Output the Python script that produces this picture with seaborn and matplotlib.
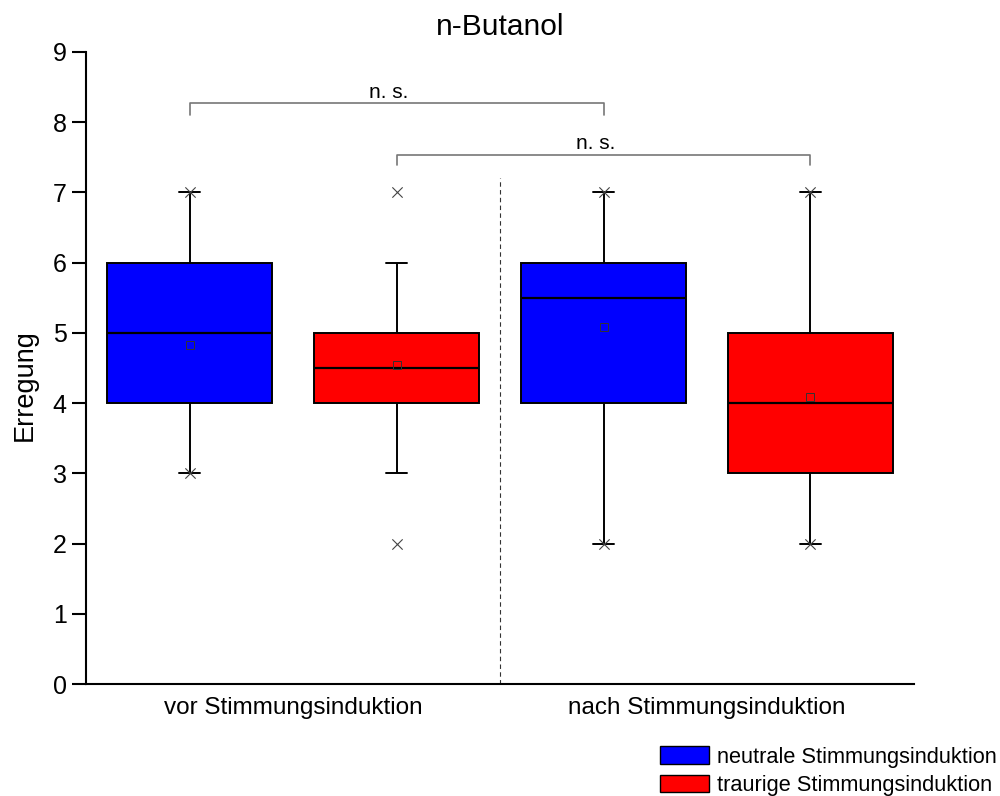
import pandas as pd
import seaborn as sns
import matplotlib.pyplot as plt
from matplotlib.patches import Patch

# Werte (Erregung, Skala 1-9) je Gruppe, aus dem Bild abgeschaetzt
zeitpunkte = ["vor Stimmungsinduktion", "nach Stimmungsinduktion"]
gruppen = ["neutrale Stimmungsinduktion", "traurige Stimmungsinduktion"]
farben = ["#0000FF", "#FF0000"]

neutral_vor = [3, 3, 3, 3, 4, 4, 4, 4, 4, 4, 4, 5, 5, 5, 5, 6, 6, 6, 6, 6, 6, 6, 7, 7]
traurig_vor = [2, 3, 3, 4, 4, 4, 4, 4, 4, 4, 4, 4, 5, 5, 5, 5, 5, 5, 5, 5, 6, 6, 6, 7]
neutral_nach = [2, 2, 3, 4, 4, 4, 4, 4, 4, 5, 5, 5, 6, 6, 6, 6, 6, 6, 6, 6, 7, 7, 7, 7]
traurig_nach = [2, 2, 2, 2, 3, 3, 3, 3, 3, 4, 4, 4, 4, 4, 4, 5, 5, 5, 5, 5, 6, 6, 7, 7]

signif_text = ["n. s.", "n. s."]

# Tabelle im Langformat
teile = []
for zeit, gruppe, werte in [(zeitpunkte[0], gruppen[0], neutral_vor),
                            (zeitpunkte[0], gruppen[1], traurig_vor),
                            (zeitpunkte[1], gruppen[0], neutral_nach),
                            (zeitpunkte[1], gruppen[1], traurig_nach)]:
    teile.append(pd.DataFrame({"Zeitpunkt": zeit, "Gruppe": gruppe, "Erregung": werte}))
df = pd.concat(teile, ignore_index=True)

sns.set_theme(style="ticks")
plt.rcParams["font.family"] = ["Liberation Sans", "DejaVu Sans"]
plt.rcParams["text.color"] = "black"
plt.rcParams["axes.labelcolor"] = "black"
plt.rcParams["xtick.color"] = "black"
plt.rcParams["ytick.color"] = "black"

fig = plt.figure(figsize=(10, 7.96), dpi=100)
ax = fig.add_axes([0.086, 0.1407, 0.828, 0.794])

sns.boxplot(data=df, x="Zeitpunkt", y="Erregung", hue="Gruppe",
            order=zeitpunkte, hue_order=gruppen, palette=farben,
            saturation=1, width=1.0, gap=0.2, whis=1.5,
            showfliers=False, showmeans=True, legend=False,
            linecolor="black", linewidth=1.4,
            medianprops={"color": "black", "linewidth": 1.6},
            meanprops={"marker": "s", "markerfacecolor": "none",
                       "markeredgecolor": "#333333", "markersize": 6,
                       "markeredgewidth": 0.7},
            capwidths=0.05, ax=ax)

# Minimum / Maximum als Kreuze
versatz = {gruppen[0]: -0.25, gruppen[1]: 0.25}
extreme = df.groupby(["Zeitpunkt", "Gruppe"])["Erregung"].agg(["min", "max"]).reset_index()
for _, zeile in extreme.iterrows():
    xpos = zeitpunkte.index(zeile["Zeitpunkt"]) + versatz[zeile["Gruppe"]]
    ax.scatter([xpos, xpos], [zeile["min"], zeile["max"]], marker="x",
               s=55, color="#444444", linewidths=0.8, zorder=5)

# Trennlinie
ax.plot([0.5, 0.5], [0, 7.2], ls=(0, (4, 3)), color="#333333", lw=0.8)

# Signifikanzklammern
klammern = [(-0.25, 0.75, 8.27, 8.10), (0.25, 1.25, 7.54, 7.39)]
for (x1, x2, yo, yu), txt in zip(klammern, signif_text):
    ax.plot([x1, x1, x2, x2], [yu, yo, yo, yu], color="#777777", lw=1.2)
    ax.text((x1 + x2) / 2 - 0.02, yo + 0.02, txt, ha="center", va="bottom", fontsize=15)

ax.set_xlim(-0.5, 1.5)
ax.set_ylim(0, 9)
ax.set_yticks(range(0, 10))
ax.set_xlabel("")
ax.set_ylabel("Erregung", fontsize=19.5)
ax.yaxis.set_label_coords(-0.058, 0.473)
ax.set_title("n-Butanol", fontsize=21.5, pad=12)
ax.tick_params(axis="y", length=10, width=1.5, labelsize=18, pad=4)
ax.tick_params(axis="x", length=0, labelsize=17.5, pad=9)
sns.despine(ax=ax)
for s in ["left", "bottom"]:
    ax.spines[s].set_linewidth(1.5)
    ax.spines[s].set_color("black")

handles = [Patch(facecolor=f, edgecolor="black", linewidth=1) for f in farben]
fig.legend(handles, gruppen, loc="lower right", bbox_to_anchor=(1.012, -0.019),
           frameon=False, fontsize=15.7, handlelength=2.25, handleheight=0.85,
           handletextpad=0.35, labelspacing=0.32, borderpad=0.2)

fig.savefig("out.png", dpi=100)
